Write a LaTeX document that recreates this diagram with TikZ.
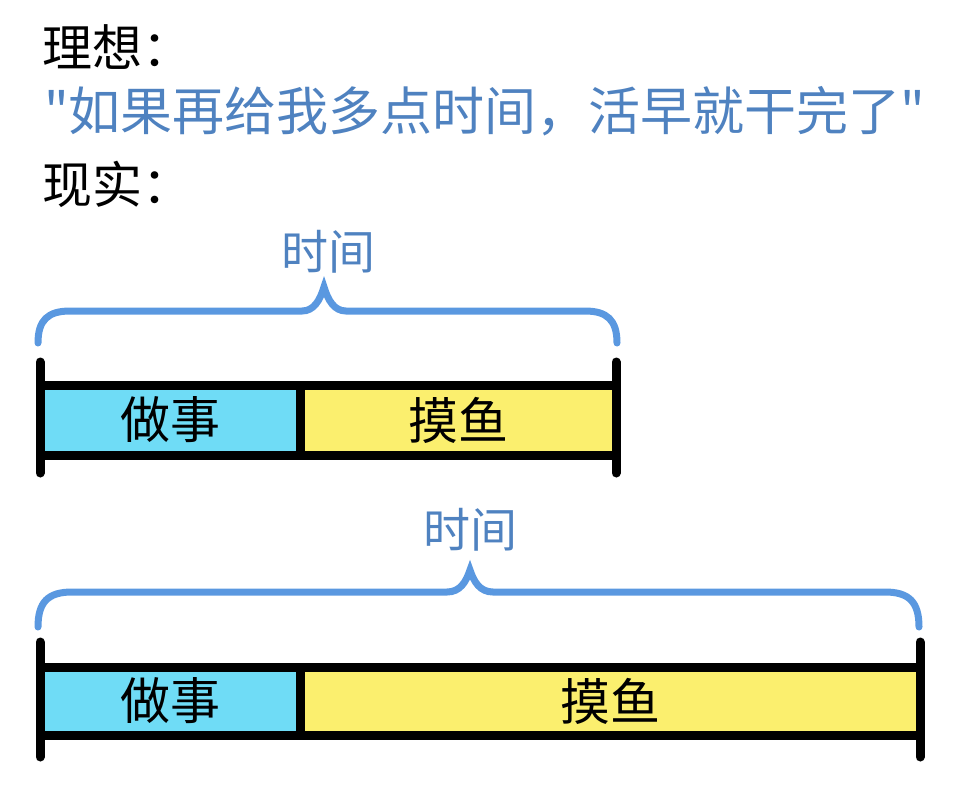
\documentclass[tikz,border=0pt]{standalone}
\usepackage{fontspec}
\setmainfont{Noto Sans CJK SC}
\newfontfamily\quotefont{Noto Sans CJK SC}
\definecolor{quoteblue}{HTML}{4F82C0}
\definecolor{braceblue}{HTML}{5A98E0}
\definecolor{workcyan}{HTML}{6FDCF6}
\definecolor{fishyellow}{HTML}{FBEF6E}
\begin{document}
\begin{tikzpicture}[x=1pt,y=-1pt,
  heading/.style={anchor=west, inner sep=0pt, font=\fontsize{50}{60}\selectfont},
  seg/.style={draw=black, line width=9pt, inner sep=0pt, outer sep=0pt, font=\fontsize{50}{60}\selectfont},
  tick/.style={line width=9pt, line cap=round},
  brace/.style={draw=braceblue, line width=7pt, line cap=round},
  timelabel/.style={text=quoteblue, font=\fontsize{47}{56}\selectfont, inner sep=0pt}]
\useasboundingbox (0,0) rectangle (960,790);

% headings
\node[heading] (ideal) at (42,47) {理想：};
\node[heading, text=quoteblue, font=\quotefont\fontsize{52}{60}\selectfont] (quote) at (44,111) {"如果再给我多点时间，活早就干完了"};
\node[heading] (real) at (42,184) {现实：};

% bar 1
\node[seg, fill=workcyan, minimum width=260pt, minimum height=70pt] (work1) at (170,420) {做事};
\node[seg, fill=fishyellow, minimum width=316pt, minimum height=70pt, anchor=west] (fish1) at (work1.east) {摸鱼};
\draw[tick] ([yshift=23pt]work1.north west) -- ([yshift=-18pt]work1.south west);
\draw[tick] ([yshift=23pt]fish1.north east) -- ([yshift=-18pt]fish1.south east);
\draw[brace] (38,343) .. controls (38,320) and (48,311) .. (70,311) -- (302,311)
  .. controls (314,311) and (320,300) .. (324,287)
  .. controls (328,300) and (334,311) .. (346,311) -- (585,311)
  .. controls (607,311) and (617,320) .. (617,343);
\node[timelabel] (time1) at (328,252) {时间};

% bar 2
\node[seg, fill=workcyan, minimum width=260pt, minimum height=68pt] (work2) at (170,701) {做事};
\node[seg, fill=fishyellow, minimum width=620pt, minimum height=68pt, anchor=west] (fish2) at (work2.east) {摸鱼};
\draw[tick] ([yshift=25pt]work2.north west) -- ([yshift=-22pt]work2.south west);
\draw[tick] ([yshift=25pt]fish2.north east) -- ([yshift=-22pt]fish2.south east);
\draw[brace] (38,627) .. controls (38,602) and (48,592) .. (72,592) -- (447,592)
  .. controls (460,592) and (466,582) .. (470,570)
  .. controls (474,582) and (480,592) .. (493,592) -- (885,592)
  .. controls (909,592) and (919,602) .. (919,627);
\node[timelabel] (time2) at (470,530) {时间};
\end{tikzpicture}
\end{document}
